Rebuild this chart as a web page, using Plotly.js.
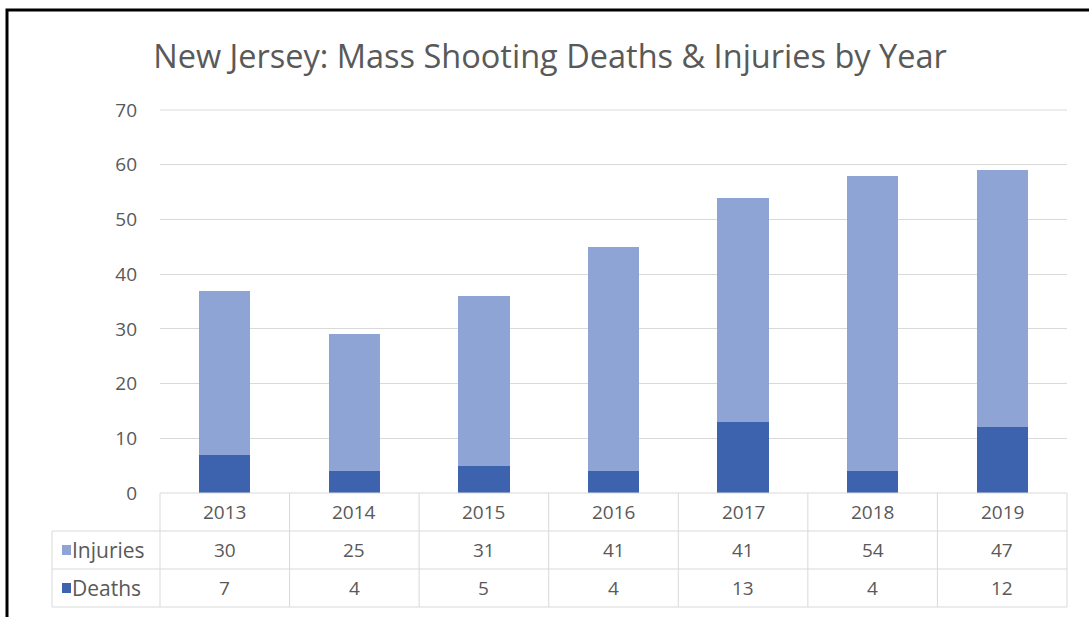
<!DOCTYPE html>
<html>
<head>
<meta charset="utf-8">
<script src="https://cdn.plot.ly/plotly-3.0.1.min.js"></script>
<style>html,body{margin:0;padding:0;background:#fff;}#chart{width:1089px;height:617px;}</style>
</head>
<body>
<div id="chart"></div>
<script>
const years = ['2013', '2014', '2015', '2016', '2017', '2018', '2019'];
const injuries = [30, 25, 31, 41, 41, 54, 47];
const deaths = [7, 4, 5, 4, 13, 4, 12];
const seriesNames = ['Injuries', 'Deaths'];
const titleText = 'New Jersey: Mass Shooting Deaths &amp; Injuries by Year';

const W = 1089, H = 617;
const L = 160, R = 22, T = 110, B = 124;
const pw = W - L - R, ph = H - T - B;
const px = x => (x - L) / pw;          // page px -> paper x
const py = y => (H - B - y) / ph;      // page px -> paper y

const lightBlue = '#8EA4D4';
const darkBlue = '#3E63AE';
const gridC = '#d9d9d9';
const textC = '#595959';
const FONT = 'Open Sans, sans-serif';

const traces = [
  {type: 'bar', name: seriesNames[1], x: years, y: deaths, marker: {color: darkBlue}, hoverinfo: 'none'},
  {type: 'bar', name: seriesNames[0], x: years, y: injuries, marker: {color: lightBlue}, hoverinfo: 'none'}
];

const rowY = [py(512), py(550), py(588)];
const lineC = {color: gridC, width: 1};
const shapes = [];
// top gridline (at range max)
shapes.push({type: 'line', xref: 'paper', yref: 'paper', x0: 0, x1: 1, y0: 1, y1: 1, line: lineC, layer: 'below'});
shapes.push({type: 'line', xref: 'paper', yref: 'paper', x0: 0, x1: 1, y0: 0, y1: 0, line: lineC});
[531, 569, 607].forEach(y => shapes.push({type: 'line', xref: 'paper', yref: 'paper', x0: px(52), x1: 1, y0: py(y), y1: py(y), line: lineC}));
for (let i = 0; i <= years.length; i++) {
  shapes.push({type: 'line', xref: 'paper', yref: 'paper', x0: i / years.length, x1: i / years.length, y0: 0, y1: py(607), line: lineC});
}
shapes.push({type: 'line', xref: 'paper', yref: 'paper', x0: px(52), x1: px(52), y0: py(531), y1: py(607), line: lineC});
shapes.push({type: 'rect', xref: 'paper', yref: 'paper', x0: px(62), x1: px(71), y0: py(545), y1: py(555), fillcolor: lightBlue, line: {width: 0}});
shapes.push({type: 'rect', xref: 'paper', yref: 'paper', x0: px(62), x1: px(71), y0: py(583), y1: py(593), fillcolor: darkBlue, line: {width: 0}});
shapes.push({type: 'path', xref: 'paper', yref: 'paper',
  path: `M ${px(7)} ${py(617)} L ${px(7)} ${py(10)} L ${px(1089)} ${py(10)}`,
  line: {color: '#000', width: 3}});

const ann = [];
const tf = {family: FONT, size: 19, color: textC};
const lf = {family: FONT, size: 21, color: textC};
years.forEach((yr, i) => {
  ann.push({x: i, xref: 'x', y: rowY[0], yref: 'paper', text: yr, showarrow: false, font: tf, xanchor: 'center', yanchor: 'middle'});
  ann.push({x: i, xref: 'x', y: rowY[1], yref: 'paper', text: String(injuries[i]), showarrow: false, font: tf, xanchor: 'center', yanchor: 'middle'});
  ann.push({x: i, xref: 'x', y: rowY[2], yref: 'paper', text: String(deaths[i]), showarrow: false, font: tf, xanchor: 'center', yanchor: 'middle'});
});
ann.push({x: px(70), xref: 'paper', y: rowY[1], yref: 'paper', text: seriesNames[0], showarrow: false, font: lf, xanchor: 'left', yanchor: 'middle'});
ann.push({x: px(70), xref: 'paper', y: rowY[2], yref: 'paper', text: seriesNames[1], showarrow: false, font: lf, xanchor: 'left', yanchor: 'middle'});

const layout = {
  width: W, height: H,
  margin: {l: L, r: R, t: T, b: B, pad: 0},
  paper_bgcolor: '#fff', plot_bgcolor: '#fff',
  barmode: 'stack', bargap: 0.605,
  showlegend: false,
  title: {text: titleText, x: 550 / W, xanchor: 'center', xref: 'container', y: 1 - 57 / H, yanchor: 'middle', yref: 'container',
    font: {family: FONT, size: 32.5, color: textC}},
  xaxis: {type: 'category', range: [-0.5, years.length - 0.5], autorange: false, showticklabels: false, showgrid: false, zeroline: false, showline: false, ticks: ''},
  yaxis: {range: [0, 70], autorange: false, dtick: 10, tick0: 0, showgrid: true, gridcolor: gridC, gridwidth: 1, zeroline: false, showline: false,
    ticks: '', ticklabelstandoff: 22, tickfont: {family: FONT, size: 19, color: textC}},
  shapes: shapes,
  annotations: ann
};

Plotly.newPlot('chart', traces, layout, {displayModeBar: false, staticPlot: true});
</script>
</body>
</html>
